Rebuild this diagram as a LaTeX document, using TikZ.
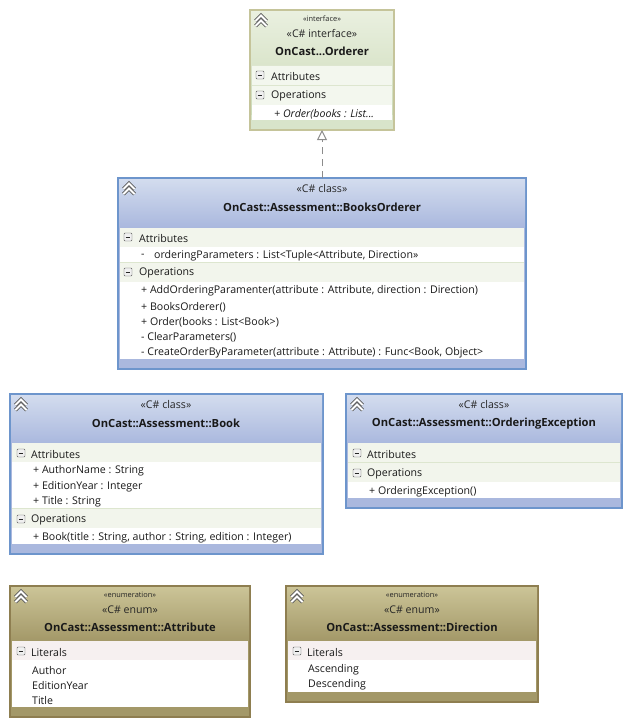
\documentclass[tikz,border=0pt]{standalone}
\usepackage{fontspec}
\setmainfont{Open Sans}
\usetikzlibrary{arrows.meta}
\definecolor{clsline}{HTML}{6D95CC}
\definecolor{clstop}{HTML}{D3DCEE}
\definecolor{clsbot}{HTML}{AAB8DE}
\definecolor{clsband}{HTML}{F2F5EC}
\definecolor{ifcline}{HTML}{C5C49A}
\definecolor{ifctop}{HTML}{EAF0E0}
\definecolor{ifcbot}{HTML}{C8D8B3}
\definecolor{ifcband}{HTML}{F3F7EE}
\definecolor{enmline}{HTML}{8E7E50}
\definecolor{enmtop}{HTML}{CBC497}
\definecolor{enmbot}{HTML}{A39868}
\definecolor{enmband}{HTML}{F6F0F0}
\definecolor{divider}{HTML}{DDE6CF}
\tikzset{
  body/.style={rectangle, inner sep=0, outer sep=0, anchor=north west, line width=1.2pt},
  label/.style={inner sep=0, anchor=west, yshift=-1.1pt, font=\fontsize{10.6}{12}\selectfont, text=black!90},
  title/.style={inner sep=0, yshift=-0.8pt, font=\fontsize{11.2}{12}\selectfont\bfseries, text=black!90},
  stereo/.style={inner sep=0, yshift=-0.8pt, font=\fontsize{10.6}{12}\selectfont, text=black!85},
  tiny/.style={inner sep=0, yshift=-0.6pt, font=\fontsize{7.4}{8}\selectfont, text=black!85},
  collapse/.pic={
    \foreach \d in {0,5} {
      \draw[black!65, line width=3.8pt, line join=miter] (-5.5,\d+1)--(0,\d-4.5)--(5.5,\d+1);
      \draw[white, line width=2pt, line join=miter] (-5.5,\d+1)--(0,\d-4.5)--(5.5,\d+1);
    }
  },
  minusbox/.pic={
    \draw[black!65, fill=black!6, rounded corners=1pt] (-4,-4) rectangle (4,4);
    \draw[black!85, line width=0.8pt] (-2.4,0)--(2.4,0);
  }
}
\begin{document}
\begin{tikzpicture}[x=1pt, y=-1pt]
\useasboundingbox (0,0) rectangle (635,725);
% interface
\node[body, draw=ifcline, top color=ifctop, bottom color=ifcbot, minimum width=144pt, minimum height=120pt] (orderer) at (250,10) {};
\fill[ifcbot!70!white] (251,115) rectangle (393,129);
\fill[divider] (252,65) rectangle (392,106);
\fill[ifcband] (252,66) rectangle (392,85);
\fill[ifcband] (252,86) rectangle (392,105);
\fill[white] (252,105) rectangle (392,120);
\node[tiny] (orderer stereo) at (322,18) {«interface»};
\node[stereo] (orderer kind) at (322,33) {«C\# interface»};
\node[title] (orderer title) at (322,51) {OnCast...Orderer};
\node[label] (orderer attr) at (271,75) {Attributes};
\node[label] (orderer oper) at (271,95) {Operations};
\node[label, font=\fontsize{10.6}{12}\selectfont\itshape] (orderer op1) at (274,113) {+ Order(books : List...};
% class BooksOrderer
\node[body, draw=clsline, fill=clsbot, minimum width=408pt, minimum height=191pt] (booksorderer) at (118,178) {};
\shade[top color=clstop, bottom color=clsbot] (119,179) rectangle (525,227);
\fill[clsband] (120,228) rectangle (524,247);
\fill[white] (120,247) rectangle (524,263);
\fill[divider] (120,262) rectangle (524,263);
\fill[clsband] (120,263) rectangle (524,282);
\fill[white] (120,282) rectangle (524,359);
\node[stereo] (booksorderer kind) at (322,188) {«C\# class»};
\node[title] (booksorderer title) at (322,207) {OnCast::Assessment::BooksOrderer};
\node[label] (booksorderer attr) at (139,237) {Attributes};
\node[label] (booksorderer dash) at (141,255) {-};
\node[label] (booksorderer at1) at (154,255) {orderingParameters : List<Tuple<Attribute, Direction>>};
\node[label] (booksorderer oper) at (139,272) {Operations};
\foreach \y/\t [count=\i] in {290/{+ AddOrderingParamenter(attribute : Attribute, direction : Direction)},
  306/{+ BooksOrderer()}, 321/{+ Order(books : List<Book>)}, 336/{- ClearParameters()},
  352/{- CreateOrderByParameter(attribute : Attribute) : Func<Book, Object>}} {
 \node[label] (booksorderer op\i) at (141,\y) {\t};
}
% class Book
\node[body, draw=clsline, fill=clsbot, minimum width=313pt, minimum height=160pt] (book) at (10,394) {};
\shade[top color=clstop, bottom color=clsbot] (11,395) rectangle (322,443);
\fill[clsband] (12,443) rectangle (321,462);
\fill[white] (12,462) rectangle (321,509);
\fill[divider] (12,508) rectangle (321,509);
\fill[clsband] (12,509) rectangle (321,528);
\fill[white] (12,528) rectangle (321,544);
\node[stereo] (book kind) at (166,404) {«C\# class»};
\node[title] (book title) at (166,423) {OnCast::Assessment::Book};
\node[label] (book attr) at (31,453) {Attributes};
\foreach \y/\t [count=\i] in {470/{+ AuthorName : String}, 486/{+ EditionYear : Integer}, 501/{+ Title : String}} {
 \node[label] (book at\i) at (33,\y) {\t};
}
\node[label] (book oper) at (31,519) {Operations};
\node[label] (book op1) at (33,537) {+ Book(title : String, author : String, edition : Integer)};
% class OrderingException
\node[body, draw=clsline, fill=clsbot, minimum width=276pt, minimum height=114pt] (exception) at (346,394) {};
\shade[top color=clstop, bottom color=clsbot] (347,395) rectangle (621,443);
\fill[divider] (348,443) rectangle (620,482);
\fill[clsband] (348,443) rectangle (620,462);
\fill[clsband] (348,463) rectangle (620,482);
\fill[white] (348,482) rectangle (620,498);
\node[stereo] (exception kind) at (484,404) {«C\# class»};
\node[title] (exception title) at (484,423) {OnCast::Assessment::OrderingException};
\node[label] (exception attr) at (367,453) {Attributes};
\node[label] (exception oper) at (367,473) {Operations};
\node[label] (exception op1) at (369,491) {+ OrderingException()};
% enum Attribute
\node[body, draw=enmline, fill=enmbot, minimum width=240pt, minimum height=131pt] (attribute) at (10,586) {};
\shade[top color=enmtop, bottom color=enmbot] (11,587) rectangle (249,641);
\fill[enmband] (12,641) rectangle (248,660);
\fill[white] (12,660) rectangle (248,707);
\node[tiny] (attribute stereo) at (130,594) {«enumeration»};
\node[stereo] (attribute kind) at (130,609) {«C\# enum»};
\node[title] (attribute title) at (130,627) {OnCast::Assessment::Attribute};
\node[label] (attribute lit) at (31,651) {Literals};
\foreach \y/\t [count=\i] in {669/Author, 684/EditionYear, 699/Title} {
 \node[label] (attribute item\i) at (32,\y) {\t};
}
% enum Direction
\node[body, draw=enmline, fill=enmbot, minimum width=252pt, minimum height=116pt] (direction) at (286,586) {};
\shade[top color=enmtop, bottom color=enmbot] (287,587) rectangle (537,641);
\fill[enmband] (288,641) rectangle (536,660);
\fill[white] (288,660) rectangle (536,692);
\node[tiny] (direction stereo) at (412,594) {«enumeration»};
\node[stereo] (direction kind) at (412,609) {«C\# enum»};
\node[title] (direction title) at (412,627) {OnCast::Assessment::Direction};
\node[label] (direction lit) at (307,651) {Literals};
\foreach \y/\t [count=\i] in {669/Ascending, 684/Descending} {
 \node[label] (direction item\i) at (308,\y) {\t};
}
% icons
\foreach \x/\y in {261/20, 129/188, 21/404, 357/404, 21/596, 297/596} {
 \pic at (\x,\y) {collapse};
}
\foreach \x/\y in {260/75, 260/95, 128/237, 128/272, 21/453, 21/519, 357/453, 357/473, 21/651, 297/651} {
 \pic at (\x,\y) {minusbox};
}
% realization
\draw[black!45, line width=1pt, dash pattern=on 7pt off 5pt, -{Triangle[open, length=10pt, width=10pt]}] (booksorderer.north) -- (orderer.south);
\end{tikzpicture}
\end{document}
